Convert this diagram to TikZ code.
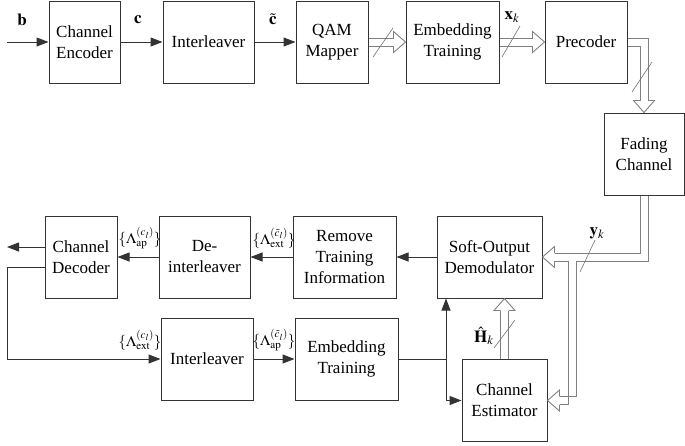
\documentclass[tikz,border=0pt]{standalone}
\usepackage{mathptmx}
\usepackage{fontspec}
\setmainfont{Liberation Serif}
\usetikzlibrary{positioning, arrows.meta, calc}

\begin{document}
\begin{tikzpicture}[
    x=1pt, y=-1pt,
    font=\fontsize{17}{21}\selectfont,
    blk/.style={rectangle, draw=black!80, line width=1pt, minimum height=82pt, align=center, inner sep=0pt},
    arr/.style={draw=black!80, line width=1pt, -{Triangle[length=12pt, width=9pt]}},
    rail/.style={draw=black!50, line width=0.9pt},
    tick/.style={draw=black!55, line width=0.6pt},
    lbl/.style={inner sep=0pt},
    llr/.style={inner sep=0pt, font=\fontsize{15}{18}\selectfont},
    fathead/.pic={\draw[rail, line join=miter] (-12,4) -- (-12,10.5) -- (0,0) -- (-12,-10.5) -- (-12,-4);}
]
    \useasboundingbox (0,0) rectangle (685,445);

    % transmitter
    \node[blk, minimum width=71pt] (enc) at (84.5,42) {Channel\\Encoder};
    \node[blk, minimum width=91pt, right=42pt of enc] (il) {Interleaver};
    \node[blk, minimum width=72pt, right=41pt of il] (qam) {QAM\\Mapper};
    \node[blk, minimum width=93pt, right=37pt of qam] (emb) {Embedding\\Training};
    \node[blk, minimum width=82pt, right=45pt of emb] (prec) {Precoder};
    \node[blk, minimum width=80pt] (fad) at (644,154) {Fading\\Channel};

    % receiver
    \node[blk, minimum width=105pt] (soft) at (489.5,257) {Soft-Output\\Demodulator};
    \node[blk, minimum width=103pt, left=40pt of soft] (rem) {Remove\\Training\\Information};
    \node[blk, minimum width=91pt, left=42pt of rem] (deint) {De-\\interleaver};
    \node[blk, minimum width=72pt, left=41pt of deint] (dec) {Channel\\Decoder};
    \node[blk, minimum width=92pt] (il2) at (207,359) {Interleaver};
    \node[blk, minimum width=103pt, right=41pt of il2] (emb2) {Embedding\\Training};
    \node[blk, minimum width=85pt] (est) at (504.5,400.5) {Channel\\Estimator};

    \coordinate (src) at (7,42);
    \coordinate (sink) at (7,247);
    \coordinate (fb) at (7,267);
    \coordinate (tj) at (446,359);
    \coordinate (br) at (572,261);

    % bit paths
    \draw[arr] (src) -- (enc);
    \draw[arr] (enc) -- (il);
    \draw[arr] (il) -- (qam);
    \draw[arr] (soft) -- (rem);
    \draw[arr] (rem) -- (deint);
    \draw[arr] (deint) -- (dec);
    \draw[arr] (dec.west |- sink) -- (sink);
    \draw[arr] (dec.west |- fb) -- (fb) |- (il2.west);
    \draw[arr] (il2) -- (emb2);
    \draw[arr] (emb2.east) -| (soft.south -| tj);
    \draw[arr] (tj) |- (est.west);

    % vector paths (double rails)
    \foreach \s in {-4,4} {
        \draw[rail] ($(qam.east)+(0,\s)$) -- ($(emb.west)+(-12,\s)$);
        \draw[rail] ($(emb.east)+(0,\s)$) -- ($(prec.west)+(-12,\s)$);
        \draw[rail] ($(est.north)+(\s,0)$) -- ($(est.north |- soft.south)+(\s,12)$);
    }
    \draw[rail] ($(prec.east)+(0,-4)$) -| ($(fad.north)+(4,-12)$);
    \draw[rail] ($(prec.east)+(0,4)$) -| ($(fad.north)+(-4,-12)$);
    \draw[rail] ($(fad.south)+(-4,0)$) |- ($(soft.east)+(12,-4)$);
    \draw[rail] ($(fad.south)+(4,0)$) |- ($(br)+(4,0)$);
    \draw[rail] ($(br)+(-4,0)$) -- ($(soft.east)+(12,4)$);
    \draw[rail] ($(br)+(-4,0)$) |- ($(est.east)+(12,4)$);
    \draw[rail] ($(br)+(4,0)$) |- ($(est.east)+(12,-4)$);

    \pic at (emb.west) {fathead};
    \pic at (prec.west) {fathead};
    \pic[rotate=-90] at (fad.north) {fathead};
    \pic[rotate=180] at (soft.east) {fathead};
    \pic[rotate=180] at (est.east) {fathead};
    \pic[rotate=90] at (est.north |- soft.south) {fathead};

    \draw[tick] (373,57) -- (393,28);
    \draw[tick] (502,57) -- (520,26);
    \draw[tick] (632,92) -- (652,62);
    \draw[tick] (580,272) -- (595,240);
    \draw[tick] (494,348) -- (515,320);

    % labels
    \node[lbl] (lb) at (22,20) {$\mathbf{b}$};
    \node[lbl] (lc) at (138,20) {$\mathbf{c}$};
    \node[lbl] (lct) at (273,19) {$\tilde{\mathbf{c}}$};
    \node[lbl] (lx) at (512,17) {$\mathbf{x}_k$};
    \node[lbl] (ly) at (597,233) {$\mathbf{y}_k$};
    \node[lbl] (lh) at (484,336) {$\hat{\mathbf{H}}_k$};
    \node[llr] (lap) at (140,238) {$\{\Lambda_{\mathrm{ap}}^{(c_l)}\}$};
    \node[llr] (lext) at (274,238) {$\{\Lambda_{\mathrm{ext}}^{(\tilde c_l)}\}$};
    \node[llr] (lext2) at (140,340) {$\{\Lambda_{\mathrm{ext}}^{(c_l)}\}$};
    \node[llr] (lap2) at (274,340) {$\{\Lambda_{\mathrm{ap}}^{(\tilde c_l)}\}$};
\end{tikzpicture}
\end{document}
